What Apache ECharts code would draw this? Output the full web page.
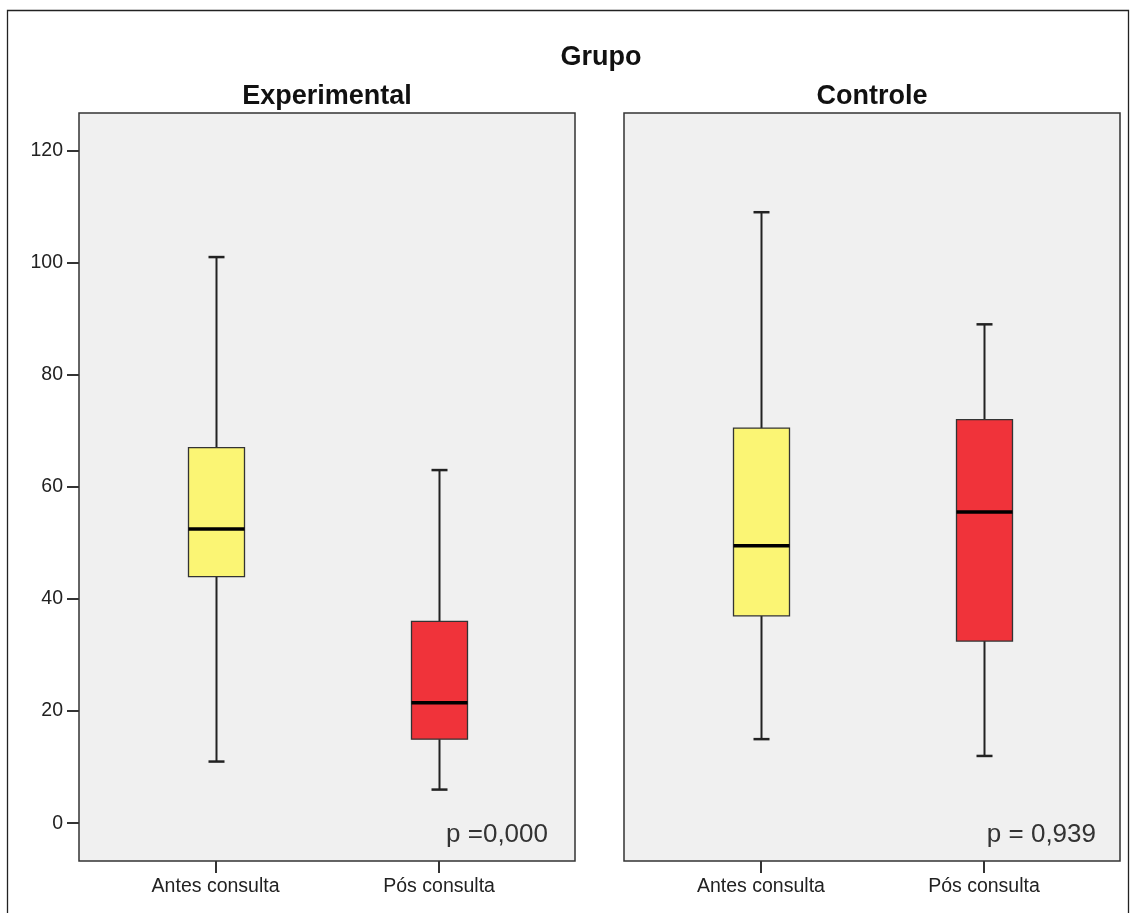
<!DOCTYPE html>
<html>
<head>
<meta charset="utf-8">
<script src="https://cdn.jsdelivr.net/npm/echarts@6/dist/echarts.min.js"></script>
<style>
html,body{margin:0;padding:0;background:#fff;}
#chart{width:1130px;height:913px;}
</style>
</head>
<body>
<div id="chart"></div>
<script>
// ---- data ----
const categories = ['Antes consulta', 'Pós consulta'];
const panelTitles = ['Experimental', 'Controle'];
const pTexts = ['p =0,000', 'p = 0,939'];
const yTicks = [0, 20, 40, 60, 80, 100, 120];
// [min, Q1, median, Q3, max]
const expAntes = [11, 44, 52.5, 67, 101];
const expPos = [6, 15, 21.5, 36, 63];
const ctrlAntes = [15, 37, 49.5, 70.5, 109];
const ctrlPos = [12, 32.5, 55.5, 72, 89];

const boxColors = ['#fbf574', '#f0333a'];

const chart = echarts.init(document.getElementById('chart'), null, {renderer: 'canvas'});

function renderItem(params, api) {
  const x = api.value(0);
  const pMin = api.coord([x, api.value(1)]);
  const pQ1 = api.coord([x, api.value(2)]);
  const pMed = api.coord([x, api.value(3)]);
  const pQ3 = api.coord([x, api.value(4)]);
  const pMax = api.coord([x, api.value(5)]);
  const cx = Math.round(pMin[0]) + 0.5;
  const bw = 56, cw = 16;
  const lineStyle = {stroke: '#222', lineWidth: 2};
  return {
    type: 'group',
    children: [
      {type: 'line', shape: {x1: cx, y1: pMax[1], x2: cx, y2: pQ3[1]}, style: lineStyle},
      {type: 'line', shape: {x1: cx, y1: pQ1[1], x2: cx, y2: pMin[1]}, style: lineStyle},
      {type: 'line', shape: {x1: cx - cw / 2, y1: pMax[1], x2: cx + cw / 2, y2: pMax[1]}, style: {stroke: '#222', lineWidth: 2.5}},
      {type: 'line', shape: {x1: cx - cw / 2, y1: pMin[1], x2: cx + cw / 2, y2: pMin[1]}, style: {stroke: '#222', lineWidth: 2.5}},
      {type: 'rect', shape: {x: cx - bw / 2, y: pQ3[1], width: bw, height: pQ1[1] - pQ3[1]},
        style: {fill: boxColors[Math.round(x)], stroke: '#333', lineWidth: 1.3}},
      {type: 'line', shape: {x1: cx - bw / 2, y1: pMed[1], x2: cx + bw / 2, y2: pMed[1]}, style: {stroke: '#000', lineWidth: 3.5}}
    ]
  };
}

const gridDefs = [
  {left: 79, top: 113, width: 496, height: 748},
  {left: 624, top: 113, width: 496, height: 748}
];
const xRanges = [[-0.611, 1.608], [-0.614, 1.61]];
const yMin = -6.74, yMax = 126.7;
const labelFont = {fontFamily: 'Liberation Sans, Arial, sans-serif', fontSize: 19.5, color: '#222'};
const titleFont = 'bold 27px Liberation Sans, Arial, sans-serif';
const pFont = '26px Liberation Sans, Arial, sans-serif';

const option = {
  backgroundColor: '#fff',
  animation: false,
  grid: gridDefs.map(g => Object.assign({show: true, backgroundColor: '#f0f0f0', borderColor: '#333', borderWidth: 1.5}, g)),
  xAxis: gridDefs.map((g, i) => ({
    type: 'value', gridIndex: i, min: xRanges[i][0], max: xRanges[i][1],
    position: 'bottom',
    axisLine: {show: false, onZero: false},
    splitLine: {show: false},
    axisTick: {show: true, customValues: [0, 1], length: 12, inside: false, lineStyle: {color: '#333', width: 2}},
    axisLabel: Object.assign({show: true, customValues: [0, 1], margin: 16, formatter: v => categories[Math.round(v)]}, labelFont)
  })),
  yAxis: gridDefs.map((g, i) => ({
    type: 'value', gridIndex: i, min: yMin, max: yMax,
    position: 'left',
    axisLine: {show: false, onZero: false},
    splitLine: {show: false},
    axisTick: {show: i === 0, customValues: yTicks, length: 12, inside: false, lineStyle: {color: '#333', width: 2}},
    axisLabel: Object.assign({show: i === 0, customValues: yTicks, margin: 16}, labelFont)
  })),
  series: [
    {type: 'custom', xAxisIndex: 0, yAxisIndex: 0, renderItem: renderItem, data: [[0].concat(expAntes), [1].concat(expPos)]},
    {type: 'custom', xAxisIndex: 1, yAxisIndex: 1, renderItem: renderItem, data: [[0].concat(ctrlAntes), [1].concat(ctrlPos)]}
  ],
  graphic: [
    {type: 'rect', shape: {x: 7.5, y: 10.5, width: 1121, height: 920}, style: {fill: 'none', stroke: '#222', lineWidth: 1.3}, silent: true},
    {type: 'text', x: 601, y: 58, style: {text: 'Grupo', font: titleFont, fill: '#111', textAlign: 'center', textVerticalAlign: 'middle'}},
    {type: 'text', x: 327, y: 97, style: {text: panelTitles[0], font: titleFont, fill: '#111', textAlign: 'center', textVerticalAlign: 'middle'}},
    {type: 'text', x: 872, y: 97, style: {text: panelTitles[1], font: titleFont, fill: '#111', textAlign: 'center', textVerticalAlign: 'middle'}},
    {type: 'text', x: 548, y: 835, style: {text: pTexts[0], font: pFont, fill: '#333', textAlign: 'right', textVerticalAlign: 'middle'}},
    {type: 'text', x: 1096, y: 835, style: {text: pTexts[1], font: pFont, fill: '#333', textAlign: 'right', textVerticalAlign: 'middle'}}
  ]
};
chart.setOption(option);
</script>
</body>
</html>
